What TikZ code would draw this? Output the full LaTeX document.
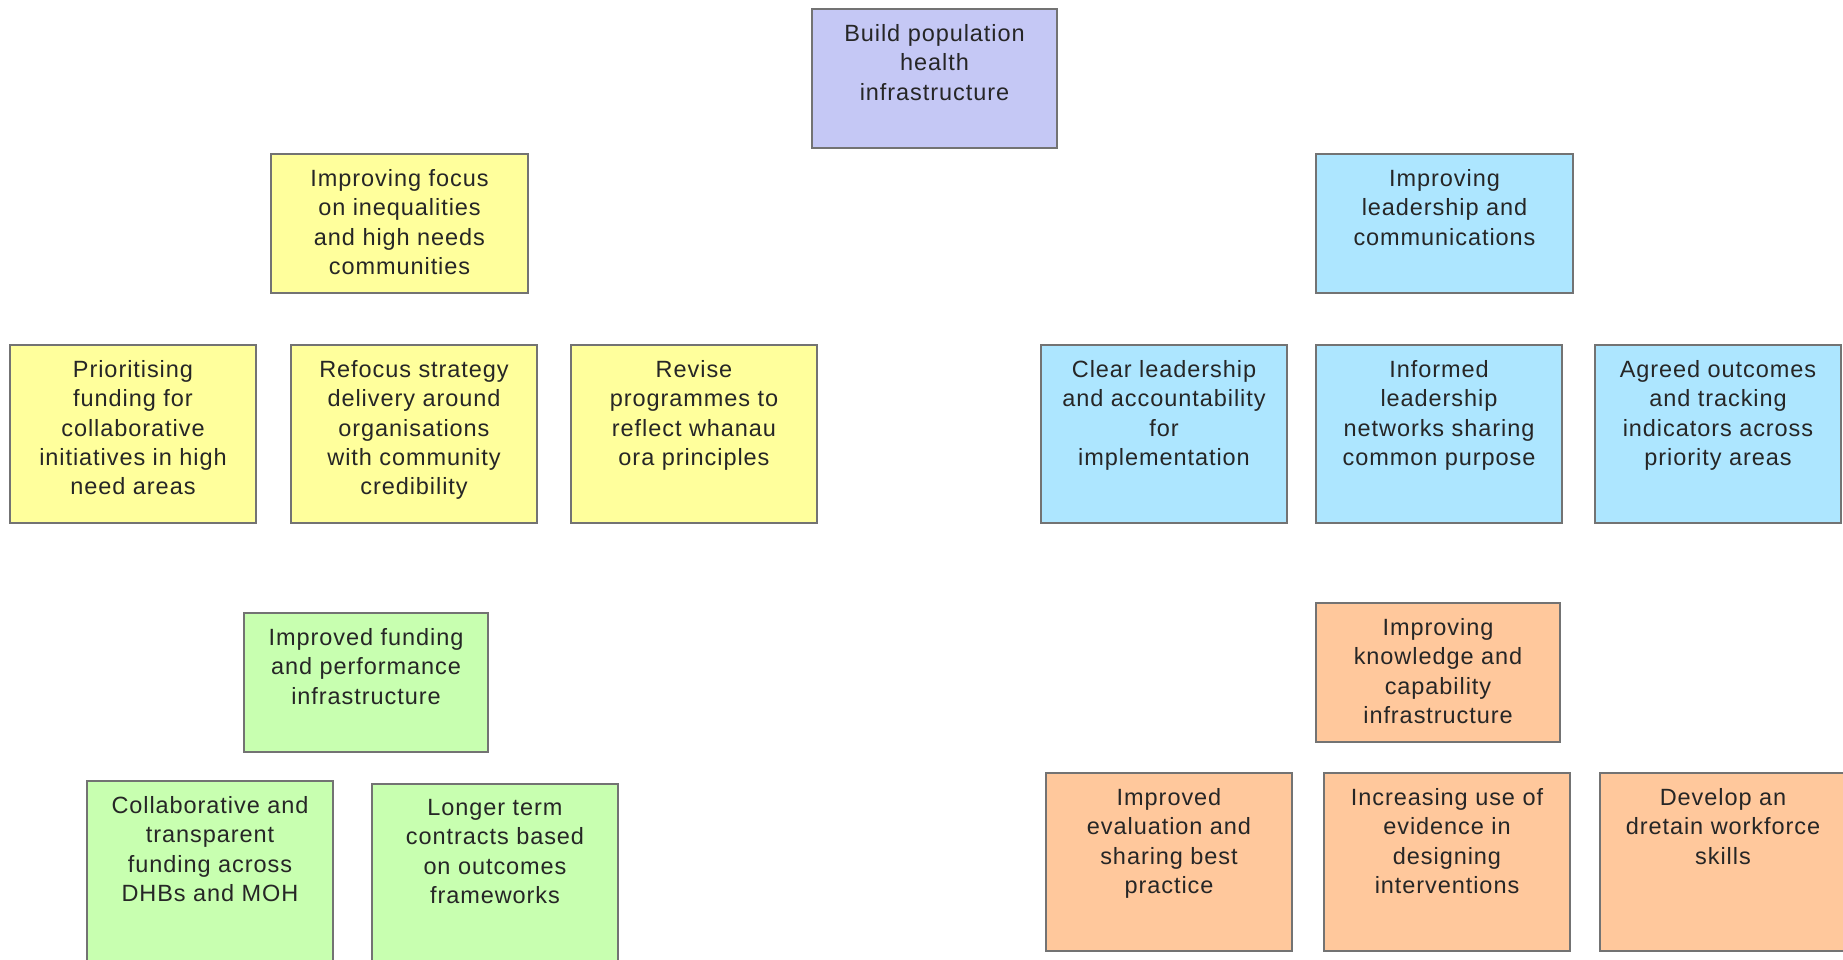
\documentclass[tikz,border=0pt]{standalone}
\usepackage{fontspec}
\newfontfamily\cardfont{Liberation Sans}[LetterSpace=4]
\usepackage{tikz}

\definecolor{lav}{RGB}{197,200,245}
\definecolor{ylw}{RGB}{255,255,156}
\definecolor{sky}{RGB}{173,230,255}
\definecolor{mint}{RGB}{200,255,176}
\definecolor{peach}{RGB}{255,200,156}

\begin{document}
\begin{tikzpicture}[x=1pt, y=-1pt,
	card/.style={draw=black!55, line width=2pt, fill=#1, anchor=north west, minimum width=246pt, minimum height=178pt, inner sep=0pt},
	txt/.style={anchor=north, align=center, inner sep=0pt, yshift=-16pt, text=black!85, font=\cardfont\fontsize{23.5}{29.4}\selectfont}]
	\useasboundingbox (0,0) rectangle (1843,959);

	% top of the tree
	\node[card=lav, minimum width=245pt, minimum height=139pt, label={[txt]north:Build population\\health\\infrastructure}] (build) at (811,8) {};

	% inequalities
	\node[card=ylw, minimum width=257pt, minimum height=139pt, label={[txt]north:Improving focus\\on inequalities\\and high needs\\communities}] (ineq) at (270,153) {};
	\node[card=ylw, label={[txt]north:Prioritising\\funding for\\collaborative\\initiatives in high\\need areas}] (fund) at (9,344) {};
	\node[card=ylw, label={[txt]north:Refocus strategy\\delivery around\\organisations\\with community\\credibility}] (refoc) at (290,344) {};
	\node[card=ylw, label={[txt]north:Revise\\programmes to\\reflect whanau\\ora principles}] (revise) at (570,344) {};

	% leadership
	\node[card=sky, minimum width=257pt, minimum height=139pt, label={[txt]north:Improving\\leadership and\\communications}] (lead) at (1315,153) {};
	\node[card=sky, label={[txt]north:Clear leadership\\and accountability\\for\\implementation}] (clear) at (1040,344) {};
	\node[card=sky, label={[txt]north:Informed\\leadership\\networks sharing\\common purpose}] (inform) at (1315,344) {};
	\node[card=sky, label={[txt]north:Agreed outcomes\\and tracking\\indicators across\\priority areas}] (agreed) at (1594,344) {};

	% funding
	\node[card=mint, minimum width=244pt, minimum height=139pt, label={[txt]north:Improved funding\\and performance\\infrastructure}] (perf) at (243,612) {};
	\node[card=mint, minimum height=200pt, label={[txt]north:Collaborative and\\transparent\\funding across\\DHBs and MOH}] (collab) at (86,780) {};
	\node[card=mint, minimum height=200pt, label={[txt]north:Longer term\\contracts based\\on outcomes\\frameworks}] (longer) at (371,783) {};

	% knowledge
	\node[card=peach, minimum width=244pt, minimum height=139pt, label={[txt]north:Improving\\knowledge and\\capability\\infrastructure}] (know) at (1315,602) {};
	\node[card=peach, label={[txt]north:Improved\\evaluation and\\sharing best\\practice}] (evalu) at (1045,772) {};
	\node[card=peach, label={[txt]north:Increasing use of\\evidence in\\designing\\interventions}] (evid) at (1323,772) {};
	\node[card=peach, label={[txt]north:Develop an\\dretain workforce\\skills}] (workf) at (1599,772) {};
\end{tikzpicture}
\end{document}
